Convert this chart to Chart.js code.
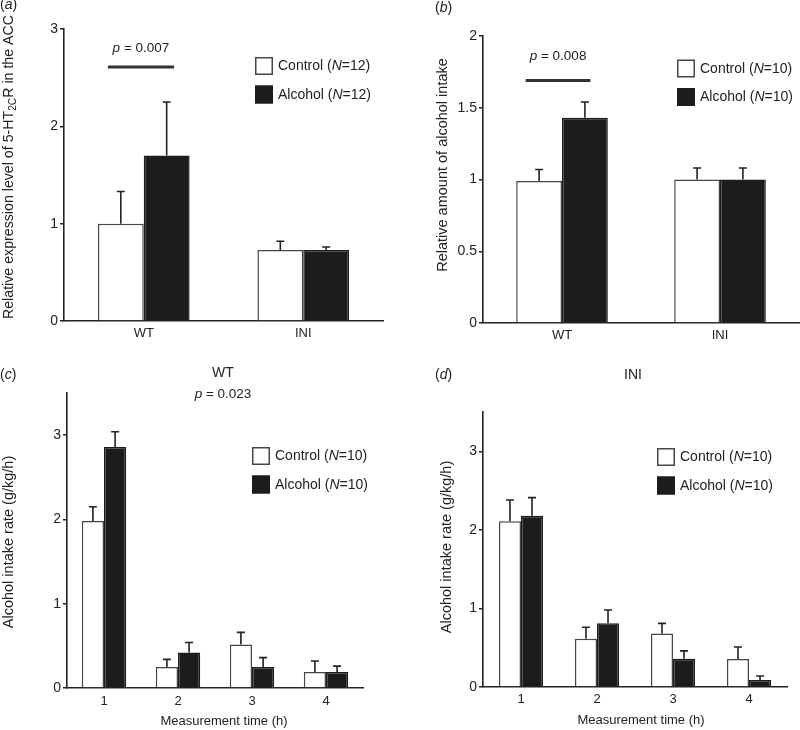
<!DOCTYPE html>
<html>
<head>
<meta charset="utf-8">
<script src="https://cdn.jsdelivr.net/npm/chart.js@4.4.1/dist/chart.umd.min.js"></script>
<style>
  body { margin: 0; background: #fff; }
  #wrap { position: relative; width: 800px; height: 730px; }
  canvas { position: absolute; }
</style>
</head>
<body>
<div id="wrap">
  <canvas id="ca" width="400" height="350" style="left:0;top:0"></canvas>
  <canvas id="cb" width="400" height="350" style="left:400px;top:0"></canvas>
  <canvas id="cc" width="400" height="370" style="left:0;top:360px"></canvas>
  <canvas id="cd" width="400" height="370" style="left:400px;top:360px"></canvas>
</div>
<script>
// ---- data ----
const groups = ["WT", "INI"];
const hours = ["1", "2", "3", "4"];

// (a) 5-HT2CR expression in the ACC
const ctrlA = [1.00, 0.73];
const ctrlErrA = [0.33, 0.09];
const alcA = [1.70, 0.73];
const alcErrA = [0.55, 0.03];
const yTicksA = [0, 1, 2, 3];

// (b) relative amount of alcohol intake
const ctrlB = [0.99, 1.00];
const ctrlErrB = [0.08, 0.08];
const alcB = [1.43, 1.00];
const alcErrB = [0.11, 0.08];
const yTicksB = [0, 0.5, 1, 1.5, 2];

// (c) WT intake rate by hour
const ctrlC = [1.98, 0.25, 0.515, 0.19];
const ctrlErrC = [0.17, 0.09, 0.145, 0.13];
const alcC = [2.86, 0.42, 0.25, 0.19];
const alcErrC = [0.18, 0.12, 0.11, 0.07];

// (d) INI intake rate by hour
const ctrlD = [2.11, 0.615, 0.68, 0.355];
const ctrlErrD = [0.27, 0.145, 0.13, 0.155];
const alcD = [2.18, 0.81, 0.36, 0.09];
const alcErrD = [0.23, 0.17, 0.10, 0.05];
const yTicksCD = [0, 1, 2, 3];

const FONT = "'Liberation Sans', Arial, sans-serif";
const INK = "#222";
const BLACK = "#1c1c1c";
const EDGE = "#474747";

// draws a line of text made of plain / italic ('i') / subscript ('s') parts
function rich(ctx, parts, x, y, size, align) {
  const fontOf = st => (st === "i" ? "italic " : "") + (st === "s" ? size * 0.72 : size) + "px " + FONT;
  let w = 0;
  parts.forEach(([t, st]) => { ctx.font = fontOf(st); w += ctx.measureText(t).width; });
  let cx = align === "center" ? x - w / 2 : x;
  ctx.textAlign = "left";
  ctx.textBaseline = "middle";
  parts.forEach(([t, st]) => {
    ctx.font = fontOf(st);
    ctx.fillText(t, cx, st === "s" ? y + size * 0.3 : y);
    cx += ctx.measureText(t).width;
  });
}

const deco = {
  id: "deco",
  afterDatasetsDraw(chart) {
    const ctx = chart.ctx, ys = chart.scales.y;
    ctx.save();
    ctx.strokeStyle = INK;
    ctx.lineWidth = 1.6;
    chart.data.datasets.forEach((ds, i) => {
      chart.getDatasetMeta(i).data.forEach((bar, j) => {
        const top = ys.getPixelForValue(ds.data[j] + ds.err[j]);
        ctx.beginPath();
        ctx.moveTo(bar.x, bar.y);
        ctx.lineTo(bar.x, top);
        ctx.moveTo(bar.x - 4, top);
        ctx.lineTo(bar.x + 4, top);
        ctx.stroke();
      });
    });
    ctx.restore();
  },
  afterDraw(chart, args, o) {
    const ctx = chart.ctx;
    ctx.save();
    ctx.fillStyle = INK;

    // panel letter
    rich(ctx, [["(", ""], [o.letter.t, "i"], [")", ""]], o.letter.x, o.letter.y, 14, "left");

    // legend
    const names = [["Control (", ""], ["N", "i"], ["=" + o.n + ")", ""]];
    const names2 = [["Alcohol (", ""], ["N", "i"], ["=" + o.n + ")", ""]];
    [[names, "#fff"], [names2, BLACK]].forEach(([parts, fill], k) => {
      const bx = o.legend.x, by = o.legend.y + k * 28.5;
      ctx.fillStyle = fill;
      ctx.fillRect(bx, by, 18, 18);
      ctx.strokeStyle = k ? BLACK : EDGE;
      ctx.lineWidth = 1.5;
      ctx.strokeRect(bx + 0.75, by + 0.75, 16.5, 16.5);
      ctx.fillStyle = INK;
      rich(ctx, parts, bx + 23, by + 9.5, 14, "left");
    });

    // y title (rotated)
    ctx.save();
    ctx.translate(o.yTitle.x, o.yTitle.y);
    ctx.rotate(-Math.PI / 2);
    rich(ctx, o.yTitle.parts, 0, 0, o.yTitle.size || 14.5, "center");
    ctx.restore();

    // free texts (titles, x axis title)
    (o.texts || []).forEach(t => rich(ctx, t.parts, t.x, t.y, t.size || 14, "center"));

    // significance bar
    if (o.sig) {
      const xs = chart.scales.x, ys = chart.scales.y;
      const cw = chart.chartArea.width / chart.data.labels.length;
      const c = xs.getPixelForValue(o.sig.cat);
      const yy = ys.getPixelForValue(o.sig.value);
      ctx.strokeStyle = "#333";
      ctx.lineWidth = 3;
      ctx.beginPath();
      ctx.moveTo(c + o.sig.from * cw, yy);
      ctx.lineTo(c + o.sig.to * cw, yy);
      ctx.stroke();
      rich(ctx, o.sig.parts, c + (o.sig.from + o.sig.to) / 2 * cw, yy + o.sig.dy, 13.5, "center");
    }
    ctx.restore();
  }
};

function makeChart(id, p) {
  return new Chart(document.getElementById(id), {
    type: "bar",
    data: {
      labels: p.labels,
      datasets: [
        { label: "Control", data: p.ctrl, err: p.ctrlErr, backgroundColor: "#fff", borderColor: EDGE, borderWidth: 1.5 },
        { label: "Alcohol", data: p.alc, err: p.alcErr, backgroundColor: BLACK, borderColor: BLACK, borderWidth: 1.5 }
      ]
    },
    options: {
      responsive: false,
      animation: false,
      layout: { padding: p.pad },
      datasets: { bar: { barPercentage: 1, categoryPercentage: p.catPct } },
      scales: {
        x: {
          grid: { display: false, drawTicks: false },
          border: { display: true, color: INK, width: 1.6 },
          ticks: { color: INK, padding: p.xPad, font: { family: FONT, size: 13 } },
          afterFit: s => { s.height = p.xHeight; }
        },
        y: {
          min: 0,
          max: p.yMax,
          afterBuildTicks: s => { s.ticks = p.yTicks.map(v => ({ value: v })); },
          grid: { display: true, drawOnChartArea: false, drawTicks: true, tickLength: 4, color: INK, lineWidth: 1.5 },
          border: { display: true, color: INK, width: 1.6 },
          ticks: { color: INK, padding: 2, font: { family: FONT, size: 14 }, callback: v => String(v) },
          afterFit: s => { s.width = p.yWidth; }
        }
      },
      plugins: { legend: { display: false }, tooltip: { enabled: false }, deco: p.deco }
    },
    plugins: [deco]
  });
}

makeChart("ca", {
  labels: groups, ctrl: ctrlA, ctrlErr: ctrlErrA, alc: alcA, alcErr: alcErrA,
  yMax: 3, yTicks: yTicksA, yWidth: 64, xHeight: 29, xPad: 5, catPct: 0.575,
  pad: { left: 0, top: 29, right: 17, bottom: 0 },
  deco: {
    n: 12,
    letter: { t: "a", x: 0, y: 5 },
    legend: { x: 255, y: 57 },
    yTitle: { x: 9, y: 167, size: 14.2, parts: [["Relative expression level of 5-HT", ""], ["2C", "s"], ["R in the ACC", ""]] },
    sig: { cat: 0, from: -0.225, to: 0.19, value: 2.61, dy: -19, parts: [["p", "i"], [" = 0.007", ""]] }
  }
});

makeChart("cb", {
  labels: groups, ctrl: ctrlB, ctrlErr: ctrlErrB, alc: alcB, alcErr: alcErrB,
  yMax: 2, yTicks: yTicksB, yWidth: 83, xHeight: 27, xPad: 5, catPct: 0.58,
  pad: { left: 0, top: 36, right: 1, bottom: 0 },
  deco: {
    n: 10,
    letter: { t: "b", x: 35, y: 8 },
    legend: { x: 277, y: 59.5 },
    yTitle: { x: 43, y: 165, parts: [["Relative amount of alcohol intake", ""]] },
    sig: { cat: 0, from: -0.23, to: 0.18, value: 1.69, dy: -24, parts: [["p", "i"], [" = 0.008", ""]] }
  }
});

makeChart("cc", {
  labels: hours, ctrl: ctrlC, ctrlErr: ctrlErrC, alc: alcC, alcErr: alcErrC,
  yMax: 3.5, yTicks: yTicksCD, yWidth: 67, xHeight: 42, xPad: 6, catPct: 0.6,
  pad: { left: 0, top: 33, right: 37, bottom: 0 },
  deco: {
    n: 10,
    letter: { t: "c", x: 0, y: 15 },
    legend: { x: 252, y: 87 },
    yTitle: { x: 9, y: 182, parts: [["Alcohol intake rate (g/kg/h)", ""]] },
    texts: [
      { x: 223, y: 13, parts: [["WT", ""]] },
      { x: 223, y: 34, size: 13.5, parts: [["p", "i"], [" = 0.023", ""]] },
      { x: 224, y: 361, size: 13, parts: [["Measurement time (h)", ""]] }
    ]
  }
});

makeChart("cd", {
  labels: hours, ctrl: ctrlD, ctrlErr: ctrlErrD, alc: alcD, alcErr: alcErrD,
  yMax: 3.5, yTicks: yTicksCD, yWidth: 83, xHeight: 43, xPad: 5, catPct: 0.58,
  pad: { left: 0, top: 52, right: 13, bottom: 0 },
  deco: {
    n: 10,
    letter: { t: "d", x: 35, y: 15 },
    legend: { x: 257, y: 88 },
    yTitle: { x: 47, y: 187, parts: [["Alcohol intake rate (g/kg/h)", ""]] },
    texts: [
      { x: 233, y: 15, parts: [["INI", ""]] },
      { x: 241, y: 360, size: 13, parts: [["Measurement time (h)", ""]] }
    ]
  }
});
</script>
</body>
</html>
